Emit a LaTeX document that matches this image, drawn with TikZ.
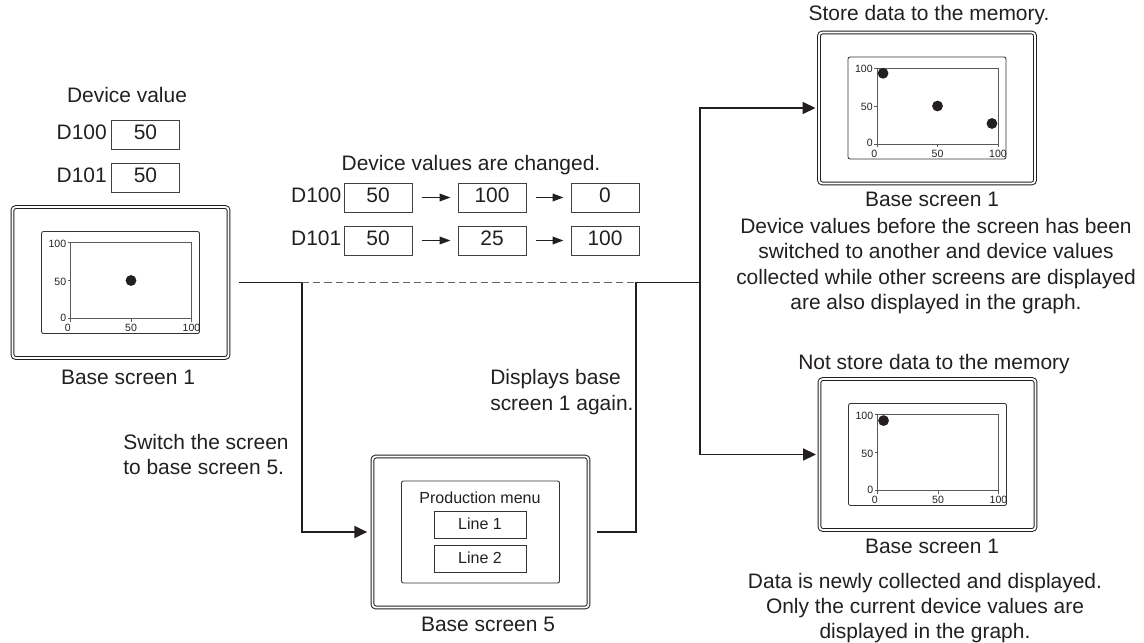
\documentclass[tikz,border=0pt]{standalone}
\usepackage{fontspec}
\setmainfont{Liberation Sans}
\usetikzlibrary{arrows.meta, positioning}

\definecolor{ink}{RGB}{35,31,32}

\begin{document}
\begin{tikzpicture}[
    x=0.025cm, y=-0.025cm,
    every node/.style={text=ink},
    main_text/.style={font=\fontsize{14.9}{18}\selectfont, inner sep=0pt, text height=1.5ex, text depth=.25ex},
    note_text/.style={font=\fontsize{14.9}{18}\selectfont, inner sep=0pt},
    small_text/.style={font=\fontsize{11.4}{13}\selectfont, inner sep=0pt, text height=1.5ex, text depth=.25ex},
    tick_text/.style={font=\fontsize{7.5}{9}\selectfont, inner sep=0pt, text height=1.5ex, text depth=.25ex},
    screen/.style={draw=ink, double, double distance=0.045cm, line width=0.7pt, rounded corners=0.08cm, minimum width=5.4cm, minimum height=3.77cm, inner sep=0pt},
    panel/.style={draw=black!80, line width=0.6pt, rounded corners=0.05cm},
    plot_frame/.style={draw=black!65, line width=0.6pt},
    plot_at/.style 2 args={shift={(#1-50,#2+36)}, x=0.03025cm, y=0.019cm},
    value_box/.style={main_text, draw=black!75, line width=0.7pt, minimum width=1.7cm, minimum height=0.725cm},
    menu_box/.style={small_text, draw=black!80, line width=0.6pt, minimum width=2.3cm, minimum height=0.675cm},
    flow_line/.style={draw=ink, line width=1pt},
    arrow/.style={flow_line, -{Triangle[length=0.32cm, width=0.3cm]}},
    small_arrow/.style={flow_line, -{Triangle[length=0.27cm, width=0.19cm]}, shorten <=0.225cm, shorten >=0.175cm},
    dash_line/.style={draw=black!60, line width=0.7pt, dash pattern=on 0.18cm off 0.1cm}
]
\useasboundingbox (0,0) rectangle (1144,643);

% Screens
\node[screen] (base1) at (120.5,282.5) {};
\node[screen] (base5) at (480.5,532) {};
\node[screen] (store) at (927,108) {};
\node[screen] (nostore) at (927.5,454.5) {};

\foreach \cx/\cy in {120.5/282.5, 480.5/532, 927/108, 927.5/454.5} {
    \draw[panel] (\cx-79,\cy-51) rectangle (\cx+79,\cy+51);
}

% Graphs
\foreach \cx/\cy in {120.5/282.5, 927/108, 927.5/454.5} {
    \begin{scope}[plot_at={\cx}{\cy}]
        \draw[plot_frame] (0,0) rectangle (100,100);
        \foreach \v in {0,50,100} {
            \draw[plot_frame] (0,\v) -- ++(-0.075cm,0cm);
            \draw[plot_frame] (\v,0) -- ++(0cm,-0.075cm);
            \node[tick_text, anchor=east] (ylab\v) at ([xshift=-0.1cm, yshift={(\v==0)*0.05cm}]0,\v) {\v};
            \node[tick_text, anchor=north] (xlab\v) at ([xshift={-(\v==0)*0.07cm}, yshift=-0.04cm]\v,0) {\v};
        }
    \end{scope}
}

\begin{scope}[plot_at={120.5}{282.5}]
    \fill[ink] (50,50) circle[radius=0.135cm];
\end{scope}
\begin{scope}[plot_at={927}{108}]
    \fill[ink] (5,93) circle[radius=0.135cm];
    \fill[ink] (50,50) circle[radius=0.135cm];
    \fill[ink] (95,27) circle[radius=0.135cm];
\end{scope}
\begin{scope}[plot_at={927.5}{454.5}]
    \fill[ink] (5,92) circle[radius=0.135cm];
\end{scope}

% Production menu
\node[small_text] (menu_title) at (480,499) {Production menu};
\node[menu_box] (line1) at (480,524.5) {Line 1};
\node[menu_box] (line2) at (480,558.5) {Line 2};

% Device values
\node[main_text] (dev_title) at (127,98) {Device value};
\node[value_box] (dev100) at (145.5,134.5) {50};
\node[value_box] (dev101) at (145.5,178) {50};
\node[main_text, left=0.1cm of dev100] (dev100_name) {D100};
\node[main_text, left=0.1cm of dev101] (dev101_name) {D101};

\node[main_text] (chg_title) at (471,166) {Device values are changed.};
\node[value_box] (chg100a) at (378,197.5) {50};
\node[value_box] (chg100b) at (492,197.5) {100};
\node[value_box] (chg100c) at (605,197.5) {0};
\node[value_box] (chg101a) at (378,240.5) {50};
\node[value_box] (chg101b) at (492,240.5) {25};
\node[value_box] (chg101c) at (605,240.5) {100};
\node[main_text, left=0.05cm of chg100a] (chg100_name) {D100};
\node[main_text, left=0.05cm of chg101a] (chg101_name) {D101};

\draw[small_arrow] (chg100a.east) -- (chg100b.west);
\draw[small_arrow] (chg100b.east) -- (chg100c.west);
\draw[small_arrow] (chg101a.east) -- (chg101b.west);
\draw[small_arrow] (chg101b.east) -- (chg101c.west);

% Captions
\node[main_text] (base1_cap) at (128,380) {Base screen 1};
\node[main_text] (base5_cap) at (488,627) {Base screen 5};
\node[main_text] (store_cap) at (932,202) {Base screen 1};
\node[main_text] (nostore_cap) at (932,549) {Base screen 1};
\node[main_text] (store_title) at (929,16) {Store data to the memory.};
\node[main_text] (nostore_title) at (934,365) {Not store data to the memory};

\node[note_text, align=center] (store_note) at (936,266) {Device values before the screen has been\\switched to another and device values\\collected while other screens are displayed\\are also displayed in the graph.};
\node[note_text, align=center] (nostore_note) at (925,608) {Data is newly collected and displayed.\\Only the current device values are\\displayed in the graph.};
\node[note_text, align=left, anchor=west] (switch_note) at (123,454.5) {Switch the screen\\to base screen 5.};
\node[note_text, align=left, anchor=west] (back_note) at (490,392) {Displays base\\screen 1 again.};

% Connections
\coordinate (left_turn) at (302,282.5);
\coordinate (right_turn) at (636,282.5);
\coordinate (fork) at (700,282.5);

\draw[arrow, shorten <=0.24cm, shorten >=0.12cm] (base1.east) -- (left_turn) |- (base5.west);
\draw[flow_line, shorten <=0.21cm] (base5.east) -| (right_turn) -- (fork);
\draw[arrow, shorten >=0.075cm] (fork) |- (store.west);
\draw[arrow, shorten >=0.075cm] (fork) |- (nostore.west);
\draw[dash_line] (left_turn) -- (right_turn);

\end{tikzpicture}
\end{document}
